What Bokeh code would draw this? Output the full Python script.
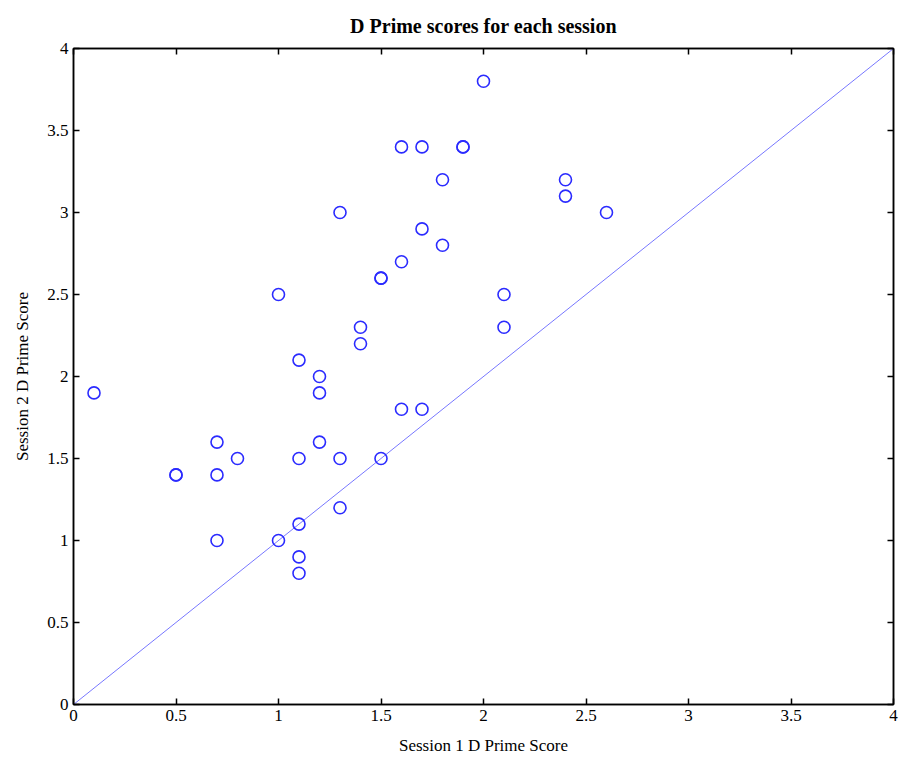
from bokeh.plotting import figure
from bokeh.models import Range1d, FixedTicker, LinearAxis
from bokeh.embed import file_html
from bokeh.resources import INLINE

session1 = [0.1, 0.5, 0.5, 0.7, 0.7, 0.7, 0.8, 1.0, 1.0, 1.1, 1.1, 1.1, 1.1, 1.1,
            1.2, 1.2, 1.2, 1.3, 1.3, 1.3, 1.4, 1.4, 1.5, 1.5, 1.5, 1.6, 1.6, 1.6,
            1.7, 1.7, 1.7, 1.8, 1.8, 1.9, 1.9, 2.0, 2.1, 2.1, 2.4, 2.4, 2.6]
session2 = [1.9, 1.4, 1.4, 1.6, 1.4, 1.0, 1.5, 2.5, 1.0, 2.1, 1.5, 1.1, 0.9, 0.8,
            2.0, 1.9, 1.6, 3.0, 1.5, 1.2, 2.3, 2.2, 2.6, 2.6, 1.5, 3.4, 2.7, 1.8,
            3.4, 2.9, 1.8, 3.2, 2.8, 3.4, 3.4, 3.8, 2.5, 2.3, 3.2, 3.1, 3.0]
identity_x = [0, 4]
identity_y = [0, 4]
tick_values = [0, 0.5, 1, 1.5, 2, 2.5, 3, 3.5, 4]
tick_labels = ["0", "0.5", "1", "1.5", "2", "2.5", "3", "3.5", "4"]

FONT = "Liberation Serif"

p = figure(width=899, height=757, output_backend="svg", toolbar_location=None,
           x_range=Range1d(0, 4), y_range=Range1d(0, 4),
           min_border_left=73, min_border_right=6, min_border_top=47, min_border_bottom=53,
           title="D Prime scores for each session")

p.title.text_font = FONT
p.title.text_font_size = "20px"
p.title.text_font_style = "bold"
p.title.align = "center"
p.title.text_color = "black"
p.title.standoff = 24

p.grid.visible = False
p.outline_line_color = "black"
p.outline_line_width = 1.5

bottom_axis = p.xaxis[0]
left_axis = p.yaxis[0]
bottom_axis.axis_label = "Session 1 D Prime Score"
left_axis.axis_label = "Session 2 D Prime Score"

top_axis = LinearAxis()
right_axis = LinearAxis()
p.add_layout(top_axis, "above")
p.add_layout(right_axis, "right")

overrides = {v: l for v, l in zip(tick_values, tick_labels)}
blank = {v: "" for v in tick_values}

for ax in [bottom_axis, left_axis, top_axis, right_axis]:
    ax.ticker = FixedTicker(ticks=tick_values)
    ax.major_tick_in = 6
    ax.major_tick_out = 0
    ax.minor_tick_in = 0
    ax.minor_tick_out = 0
    ax.axis_line_color = "black"
    ax.axis_line_width = 1.5
    ax.major_tick_line_color = "black"
    ax.major_tick_line_width = 1.5
    ax.major_label_text_font = FONT
    ax.major_label_text_font_size = "17px"
    ax.major_label_text_color = "black"
    ax.axis_label_text_font = FONT
    ax.axis_label_text_font_size = "17px"
    ax.axis_label_text_font_style = "normal"
    ax.axis_label_text_color = "black"

for ax in [bottom_axis, left_axis]:
    ax.major_label_overrides = overrides
    ax.major_label_standoff = 5

for ax in [top_axis, right_axis]:
    ax.major_label_overrides = blank
    ax.major_label_standoff = 0
    ax.major_label_text_font_size = "1px"

bottom_axis.axis_label_standoff = 12
left_axis.axis_label_standoff = 12

p.line(identity_x, identity_y, line_color="#7878ff", line_width=1)
p.scatter(session1, session2, marker="circle", size=12, fill_color=None,
          line_color="#2b2bff", line_width=1.6)

open("out.html", "w").write(file_html(p, INLINE))
